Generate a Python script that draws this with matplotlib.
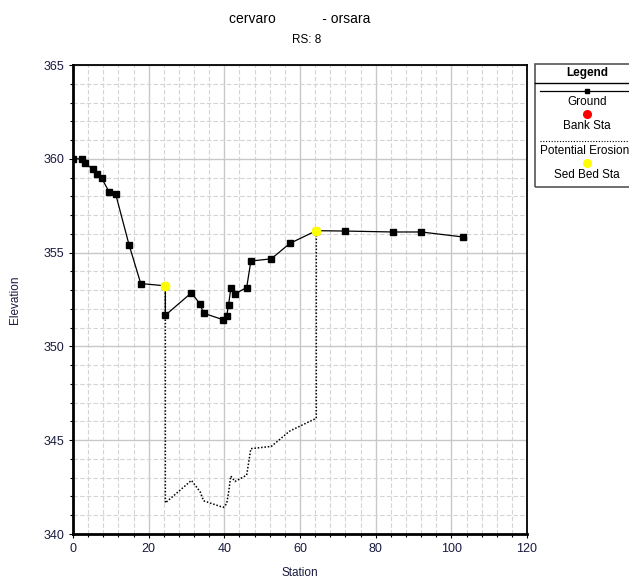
import matplotlib
matplotlib.use("Agg")
import matplotlib.pyplot as plt
from matplotlib.ticker import MultipleLocator
from matplotlib.patches import Rectangle
from matplotlib.lines import Line2D

plt.rcParams['font.family'] = ['Liberation Sans', 'DejaVu Sans']

# Ground profile (station, elevation)
ground_x = [0.0, 2.4, 3.2, 5.2, 6.4, 7.6, 9.5, 11.3, 14.8, 17.9, 24.4, 24.4,
            31.3, 33.6, 34.5, 39.7, 40.6, 41.1, 41.7, 42.8, 45.9, 47.0, 52.4,
            57.3, 64.3, 71.8, 84.5, 92.1, 103.2]
ground_y = [360.0, 360.0, 359.76, 359.46, 359.18, 358.96, 358.25, 358.1, 355.42,
            353.35, 353.23, 351.66, 352.86, 352.25, 351.77, 351.42, 351.61, 352.2,
            353.09, 352.8, 353.14, 354.55, 354.67, 355.49, 356.17, 356.15, 356.1,
            356.1, 355.83]

# Potential erosion line
erosion_x = [24.4, 24.4, 31.3, 33.6, 34.5, 39.7, 40.6, 41.1, 41.7, 42.8, 45.9,
             47.0, 52.4, 57.3, 64.3, 64.3]
erosion_y = [353.23, 341.66, 342.86, 342.25, 341.77, 341.42, 341.61, 342.2,
             343.09, 342.8, 343.14, 344.55, 344.67, 345.49, 346.17, 356.17]

# Sed bed stations
sed_x = [24.4, 64.3]
sed_y = [353.23, 356.17]

W, H = 629, 579
def fx(px):
    return px / W
def fy(py):
    return 1 - py / H

fig = plt.figure(figsize=(6.29, 5.79), dpi=100)
ax = fig.add_axes([0.1161, 0.0777, 0.7218, 0.81])

ax.set_xlim(0, 120)
ax.set_ylim(340, 365)
ax.xaxis.set_major_locator(MultipleLocator(20))
ax.xaxis.set_minor_locator(MultipleLocator(4))
ax.yaxis.set_major_locator(MultipleLocator(5))
ax.yaxis.set_minor_locator(MultipleLocator(1))
ax.grid(which='major', color='#c8c8c8', linewidth=1.0, linestyle='-')
ax.grid(which='minor', color='#d4d4d4', linewidth=0.8, linestyle=(0, (4, 2)))
ax.set_axisbelow(True)

ax.plot(erosion_x, erosion_y, color='black', linewidth=1.1, linestyle=(0, (1, 1.2)), zorder=3)
ax.plot(ground_x, ground_y, color='black', linewidth=0.9, marker='s', markersize=4, zorder=4)
ax.plot(sed_x, sed_y, linestyle='none', marker='o', color='#ffff00', markersize=6, zorder=5)

for s in ['left', 'bottom']:
    ax.spines[s].set_linewidth(2.0)
for s in ['top', 'right']:
    ax.spines[s].set_linewidth(1.3)

ax.tick_params(which='both', direction='out', labelsize=9, labelcolor='#1a1a40')
ax.tick_params(which='major', length=3, width=0.8)
ax.tick_params(which='minor', length=2, width=0.8)

fig.text(fx(300), fy(573), 'Station', ha='center', va='center', fontsize=8.5, color='#1a1a40')
fig.text(fx(15), fy(300), 'Elevation', ha='center', va='center', rotation=90,
         fontsize=8.5, color='#1a1a40')

fig.text(fx(300), fy(19), 'cervaro            - orsara', ha='center', va='center', fontsize=10)
fig.text(fx(307), fy(40), 'RS: 8', ha='center', va='center', fontsize=8.5)

# Legend box
fig.patches.append(Rectangle((fx(535), fy(187)), fx(120), fy(64) - fy(187),
                             transform=fig.transFigure, fill=False,
                             edgecolor='#555555', linewidth=1.2))
fig.lines.append(Line2D([fx(535), fx(629)], [fy(83), fy(83)], transform=fig.transFigure,
                        color='black', linewidth=1.0))
cx = 587
fig.text(fx(cx), fy(73), 'Legend', ha='center', va='center', fontsize=8.5, fontweight='bold')
fig.lines.append(Line2D([fx(540), fx(629)], [fy(91), fy(91)], transform=fig.transFigure,
                        color='black', linewidth=0.9))
fig.lines.append(Line2D([fx(cx)], [fy(91)], transform=fig.transFigure, marker='s',
                        markersize=3.5, color='black', linestyle='none'))
fig.text(fx(cx), fy(102), 'Ground', ha='center', va='center', fontsize=8.5)
fig.lines.append(Line2D([fx(cx)], [fy(114)], transform=fig.transFigure, marker='o',
                        markersize=5.5, color='#ff0000', linestyle='none'))
fig.text(fx(cx), fy(126), 'Bank Sta', ha='center', va='center', fontsize=8.5)
fig.lines.append(Line2D([fx(540), fx(629)], [fy(141), fy(141)], transform=fig.transFigure,
                        color='black', linewidth=0.8, linestyle=(0, (1, 1.5))))
fig.text(fx(540), fy(151), 'Potential Erosion', ha='left', va='center', fontsize=8.5)
fig.lines.append(Line2D([fx(cx)], [fy(163)], transform=fig.transFigure, marker='o',
                        markersize=5.5, color='#ffff00', linestyle='none'))
fig.text(fx(cx), fy(175), 'Sed Bed Sta', ha='center', va='center', fontsize=8.5)

fig.savefig('out.png', dpi=100)
